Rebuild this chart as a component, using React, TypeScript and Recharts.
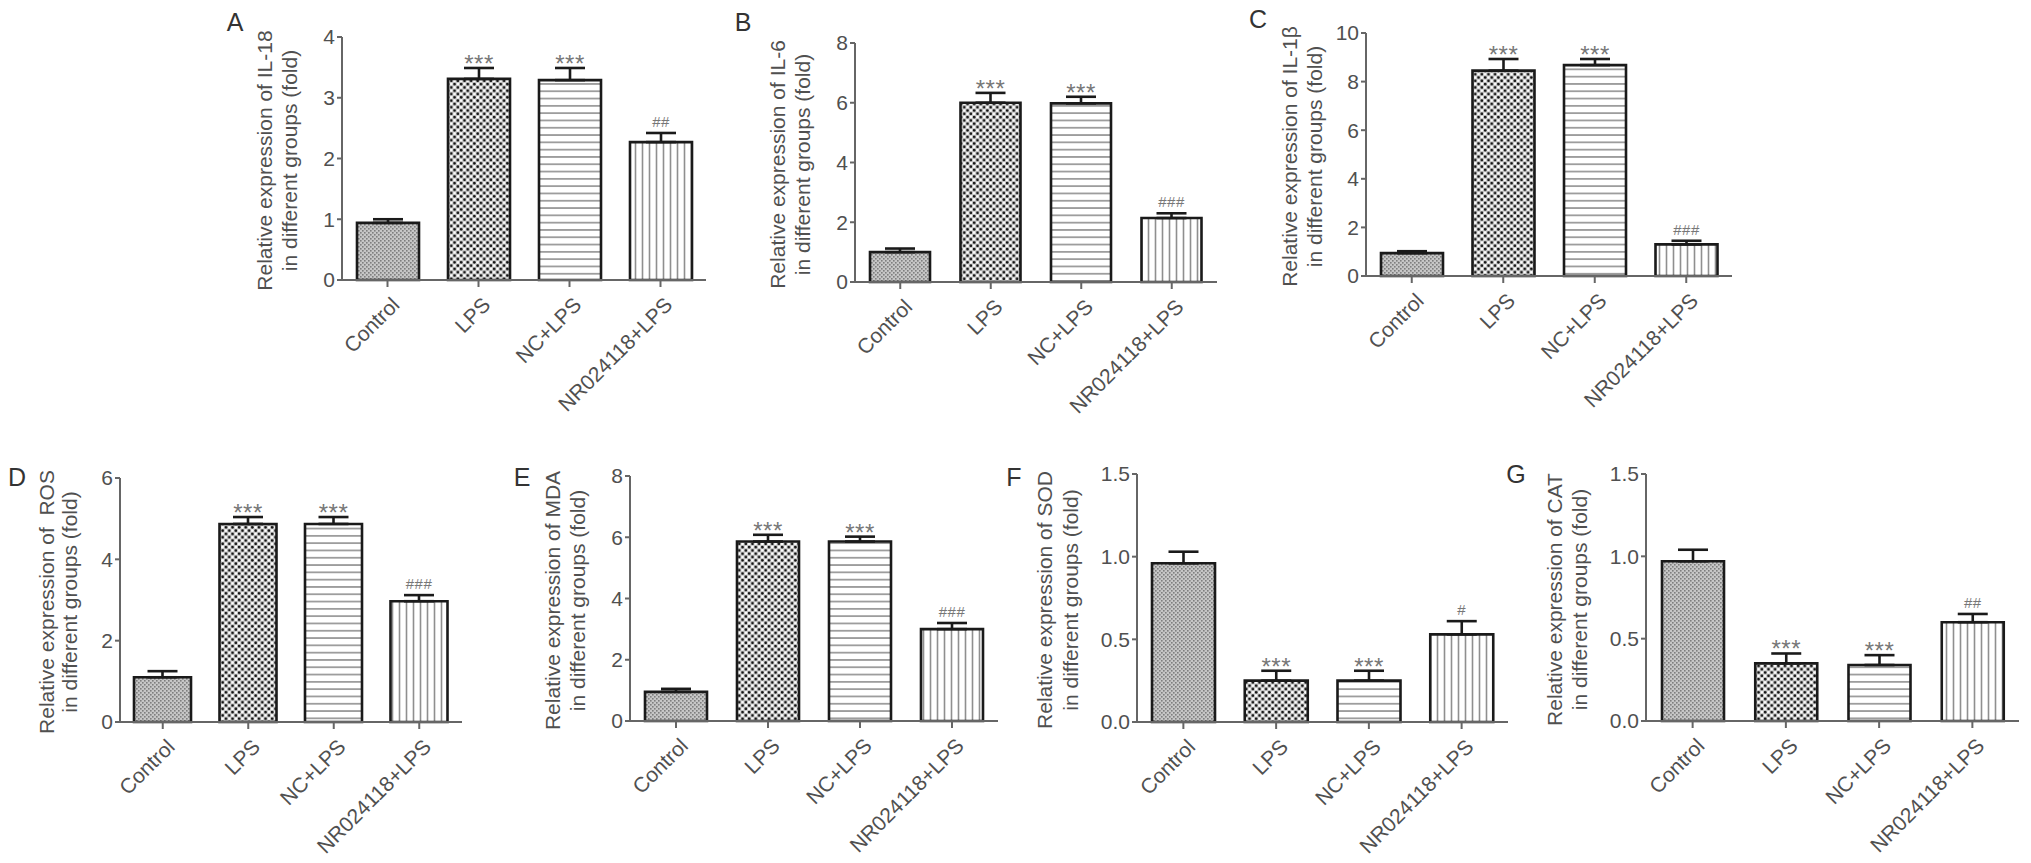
import React from 'react';
import { BarChart, Bar, XAxis, YAxis, ErrorBar, Cell, LabelList } from 'recharts';

const groups = ['Control', 'LPS', 'NC+LPS', 'NR024118+LPS'];

const il18Mean = [0.94, 3.31, 3.29, 2.27];
const il18Err = [0.06, 0.18, 0.2, 0.15];
const il18Sig = ['', '***', '***', '##'];
const il18Ticks = [0, 1, 2, 3, 4];

const il6Mean = [1.0, 6.0, 5.98, 2.14];
const il6Err = [0.12, 0.33, 0.22, 0.16];
const il6Sig = ['', '***', '***', '###'];
const il6Ticks = [0, 2, 4, 6, 8];

const il1bMean = [0.94, 8.45, 8.68, 1.3];
const il1bErr = [0.08, 0.48, 0.25, 0.15];
const il1bSig = ['', '***', '***', '###'];
const il1bTicks = [0, 2, 4, 6, 8, 10];

const rosMean = [1.1, 4.87, 4.87, 2.97];
const rosErr = [0.15, 0.17, 0.17, 0.15];
const rosSig = ['', '***', '***', '###'];
const rosTicks = [0, 2, 4, 6];

const mdaMean = [0.95, 5.86, 5.86, 3.0];
const mdaErr = [0.1, 0.22, 0.16, 0.2];
const mdaSig = ['', '***', '***', '###'];
const mdaTicks = [0, 2, 4, 6, 8];

const sodMean = [0.96, 0.25, 0.25, 0.53];
const sodErr = [0.07, 0.06, 0.06, 0.08];
const sodSig = ['', '***', '***', '#'];
const sodTicks = [0, 0.5, 1.0, 1.5];

const catMean = [0.97, 0.35, 0.34, 0.6];
const catErr = [0.07, 0.06, 0.06, 0.05];
const catSig = ['', '***', '***', '##'];
const catTicks = [0, 0.5, 1.0, 1.5];

const FONT = '"Liberation Sans", Arial, sans-serif';
const YW = 130;
const TEXT = '#505050';
const AXIS = '#666';

type Panel = {
  id: string;
  letter: string;
  title: string;
  means: number[];
  errs: number[];
  sigs: string[];
  ticks: number[];
  decimals: number;
  axisX: number;
  axisEnd: number;
  yTop: number;
  yZero: number;
  rowTop: number;
  rowH: number;
  barSize: number;
  titleOff: [number, number];
  lx: number;
  ly: number;
};

const panels: Panel[] = [
  { id: 'pA', letter: 'A', title: 'Relative expression of IL-18', means: il18Mean, errs: il18Err, sigs: il18Sig, ticks: il18Ticks, decimals: 0,
    axisX: 342, axisEnd: 706, yTop: 37, yZero: 280, rowTop: 0, rowH: 430, barSize: 62, titleOff: [77, 52], lx: 235, ly: 22 },
  { id: 'pB', letter: 'B', title: 'Relative expression of IL-6', means: il6Mean, errs: il6Err, sigs: il6Sig, ticks: il6Ticks, decimals: 0,
    axisX: 855, axisEnd: 1217, yTop: 43, yZero: 282, rowTop: 0, rowH: 430, barSize: 60, titleOff: [77, 52], lx: 743, ly: 22 },
  { id: 'pC', letter: 'C', title: 'Relative expression of IL-1β', means: il1bMean, errs: il1bErr, sigs: il1bSig, ticks: il1bTicks, decimals: 0,
    axisX: 1366, axisEnd: 1732, yTop: 33, yZero: 276, rowTop: 0, rowH: 430, barSize: 62, titleOff: [76, 51], lx: 1258, ly: 19 },
  { id: 'pD', letter: 'D', title: 'Relative expression of  ROS', means: rosMean, errs: rosErr, sigs: rosSig, ticks: rosTicks, decimals: 0,
    axisX: 120, axisEnd: 462, yTop: 478, yZero: 722, rowTop: 430, rowH: 433, barSize: 57, titleOff: [73, 50], lx: 17, ly: 477 },
  { id: 'pE', letter: 'E', title: 'Relative expression of MDA', means: mdaMean, errs: mdaErr, sigs: mdaSig, ticks: mdaTicks, decimals: 0,
    axisX: 630, axisEnd: 998, yTop: 476, yZero: 721, rowTop: 430, rowH: 433, barSize: 62, titleOff: [77, 52], lx: 522, ly: 477 },
  { id: 'pF', letter: 'F', title: 'Relative expression of SOD', means: sodMean, errs: sodErr, sigs: sodSig, ticks: sodTicks, decimals: 1,
    axisX: 1137, axisEnd: 1508, yTop: 474, yZero: 722, rowTop: 430, rowH: 433, barSize: 63, titleOff: [92, 66], lx: 1014, ly: 477 },
  { id: 'pG', letter: 'G', title: 'Relative expression of CAT', means: catMean, errs: catErr, sigs: catSig, ticks: catTicks, decimals: 1,
    axisX: 1646, axisEnd: 2019, yTop: 474, yZero: 721, rowTop: 430, rowH: 433, barSize: 62, titleOff: [91, 66], lx: 1516, ly: 474 },
];

const Patterns = ({ id }: { id: string }) => (
  <defs>
    <pattern id={`${id}-0`} patternUnits="userSpaceOnUse" width="4" height="4">
      <rect width="4" height="4" fill="#c6c6c6" />
      <rect x="0" y="0" width="1.6" height="1.6" fill="#7e7e7e" />
      <rect x="2" y="2" width="1.6" height="1.6" fill="#7e7e7e" />
    </pattern>
    <pattern id={`${id}-1`} patternUnits="userSpaceOnUse" width="6.6" height="6.6">
      <rect width="6.6" height="6.6" fill="#c9c9c9" />
      <circle cx="1.65" cy="1.65" r="1.35" fill="#111" />
      <circle cx="4.95" cy="4.95" r="1.35" fill="#111" />
      <circle cx="4.95" cy="1.65" r="1.35" fill="#fff" />
      <circle cx="1.65" cy="4.95" r="1.35" fill="#fff" />
    </pattern>
    <pattern id={`${id}-2`} patternUnits="userSpaceOnUse" width="10" height="7.3">
      <rect width="10" height="7.3" fill="#fff" />
      <line x1="0" y1="3.65" x2="10" y2="3.65" stroke="#8f8f8f" strokeWidth="1.6" />
    </pattern>
    <pattern id={`${id}-3`} patternUnits="userSpaceOnUse" width="7" height="10">
      <rect width="7" height="10" fill="#fff" />
      <line x1="3.5" y1="0" x2="3.5" y2="10" stroke="#8f8f8f" strokeWidth="1.6" />
    </pattern>
  </defs>
);

const CatTick = (props: any) => {
  const { x, y, payload } = props;
  return (
    <g transform={`translate(${x + 8},${y + 12})`}>
      <text x={0} y={0} dy="0.35em" textAnchor="end" transform="rotate(-45)" fontSize={21} fill={TEXT} fontFamily={FONT}>
        {payload.value}
      </text>
    </g>
  );
};

const TitleLabel = ({ p }: { p: Panel }) => {
  const cy = (p.yTop - p.rowTop) + (p.yZero - p.yTop) / 2 + 2;
  const x1 = YW - p.titleOff[0];
  const x2 = YW - p.titleOff[1];
  return (
    <g>
      <text x={x1} y={cy} dy="0.35em" transform={`rotate(-90 ${x1} ${cy})`} textAnchor="middle" fontSize={21} fill={TEXT} fontFamily={FONT} style={{ whiteSpace: 'pre' }}>
        {p.title}
      </text>
      <text x={x2} y={cy} dy="0.35em" transform={`rotate(-90 ${x2} ${cy})`} textAnchor="middle" fontSize={21} fill={TEXT} fontFamily={FONT}>
        in different groups (fold)
      </text>
    </g>
  );
};

const PanelChart = ({ p }: { p: Panel }) => {
  const plotW = p.axisEnd - p.axisX;
  const width = YW + plotW + 4;
  const height = p.rowH;
  const top = p.yTop - p.rowTop;
  const xAxisH = p.rowTop + p.rowH - p.yZero;
  const band = plotW / groups.length;
  const maxTick = p.ticks[p.ticks.length - 1];
  const data = groups.map((g, i) => ({ name: g, v: p.means[i], e: [0, p.errs[i]], s: p.sigs[i] }));

  const renderSig = (lp: any) => {
    const vb = lp.viewBox || {};
    const x = lp.x ?? vb.x;
    const y = lp.y ?? vb.y;
    const w = lp.width ?? vb.width;
    const h = lp.height ?? vb.height;
    if (x == null || y == null) return null;
    const i = Math.max(0, Math.min(groups.length - 1, Math.floor((x + w / 2 - YW) / band)));
    const s = p.sigs[i];
    if (!s) return null;
    const pxPer = h / p.means[i];
    const capY = y - p.errs[i] * pxPer;
    const star = s.charAt(0) === '*';
    return (
      <text x={x + w / 2} y={star ? capY + 4 : capY - 6} textAnchor="middle" fontSize={star ? 24 : 15} fill="#777" fontFamily={FONT} letterSpacing={0.5}>
        {s}
      </text>
    );
  };

  return (
    <div style={{ position: 'absolute', left: p.axisX - YW, top: p.rowTop }}>
      <BarChart width={width} height={height} data={data} margin={{ top, right: 4, bottom: 0, left: 0 }} barCategoryGap={0}>
        <Patterns id={p.id} />
        <XAxis
          dataKey="name"
          height={xAxisH}
          interval={0}
          tickSize={7}
          tickMargin={2}
          axisLine={{ stroke: AXIS, strokeWidth: 2 }}
          tickLine={{ stroke: AXIS, strokeWidth: 2 }}
          tick={<CatTick />}
        />
        <YAxis
          width={YW}
          type="number"
          domain={[0, maxTick]}
          ticks={p.ticks}
          interval={0}
          tickSize={5}
          tickMargin={2}
          axisLine={{ stroke: AXIS, strokeWidth: 2 }}
          tickLine={{ stroke: AXIS, strokeWidth: 2 }}
          tick={{ fill: TEXT, fontSize: 21, fontFamily: FONT }}
          tickFormatter={(v: number) => v.toFixed(p.decimals)}
          label={<TitleLabel p={p} />}
        />
        <Bar dataKey="v" barSize={p.barSize} stroke="#1a1a1a" strokeWidth={2.6} isAnimationActive={false}>
          {data.map((d, i) => (
            <Cell key={d.name} fill={`url(#${p.id}-${i})`} />
          ))}
          <ErrorBar dataKey="e" width={15} stroke="#1a1a1a" strokeWidth={2.6} direction="y" isAnimationActive={false} />
          <LabelList dataKey="s" content={renderSig} />
        </Bar>
      </BarChart>
    </div>
  );
};

export default function App() {
  return (
    <div style={{ position: 'relative', width: 2031, height: 863, background: '#fff', overflow: 'hidden' }}>
      <style>{'body{margin:0;background:#fff;}'}</style>
      {panels.map((p) => (
        <PanelChart key={p.id} p={p} />
      ))}
      <svg width={2031} height={863} style={{ position: 'absolute', left: 0, top: 0, pointerEvents: 'none' }}>
        {panels.map((p) => (
          <text key={p.id} x={p.lx} y={p.ly} dy="0.36em" textAnchor="middle" fontSize={25} fill="#333" fontFamily={FONT}>
            {p.letter}
          </text>
        ))}
      </svg>
    </div>
  );
}
